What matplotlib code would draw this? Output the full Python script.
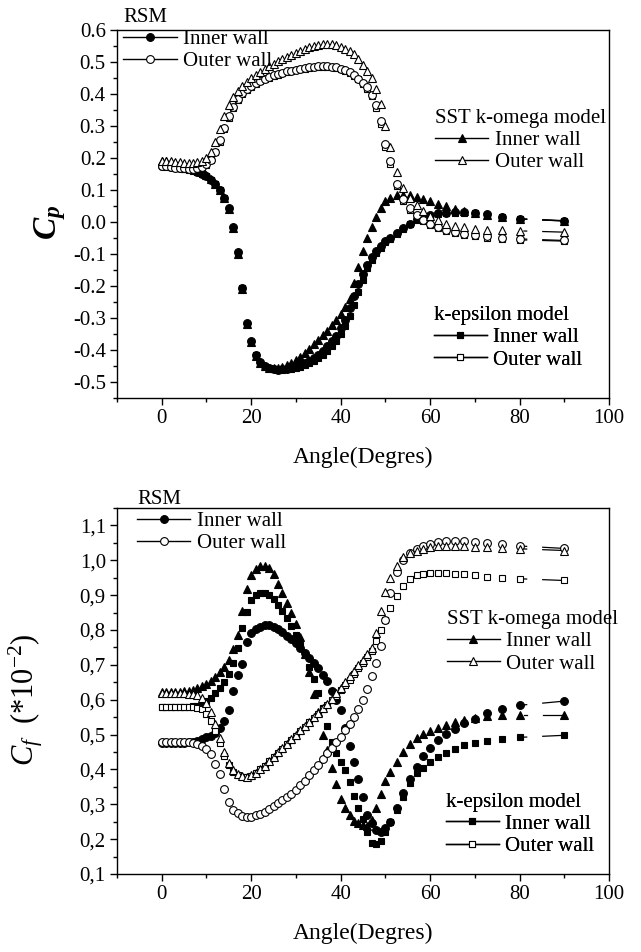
import numpy as np
import matplotlib
matplotlib.use('Agg')
import matplotlib.pyplot as plt
from matplotlib.lines import Line2D
from matplotlib.ticker import MultipleLocator, FuncFormatter

plt.rcParams['font.family'] = 'Liberation Serif'
plt.rcParams['mathtext.fontset'] = 'custom'
plt.rcParams['mathtext.rm'] = 'Liberation Serif'
plt.rcParams['mathtext.it'] = 'Liberation Serif:italic'
plt.rcParams['mathtext.bf'] = 'Liberation Serif:bold:italic'

# 角度站点（两个图共用）
ANGLE = [0, 1, 2, 3, 4, 5, 6, 7, 8, 9,
         10, 11, 12, 13, 14, 15, 16, 17, 18, 19,
         20, 21, 22, 23, 24, 25, 26, 27, 28, 29,
         30, 31, 32, 33, 34, 35, 36, 37, 38, 39,
         40, 41, 42, 43, 44, 45, 46, 47, 48, 49,
         50, 51, 52.5, 54, 55.5, 57, 58.5, 60, 61.7, 63.5,
         65.5, 67.7, 70, 72.7, 76, 80, 90]

# ---- Cp ----
cp_rsm_in = [0.175, 0.174, 0.173, 0.171, 0.169, 0.167, 0.164, 0.161, 0.157, 0.151,
             0.143, 0.132, 0.118, 0.100, 0.075, 0.042, -0.015, -0.095, -0.205, -0.315,
             -0.372, -0.415, -0.439, -0.451, -0.458, -0.461, -0.462, -0.461, -0.459, -0.456,
             -0.452, -0.447, -0.441, -0.434, -0.425, -0.415, -0.403, -0.389, -0.373, -0.355,
             -0.333, -0.305, -0.270, -0.230, -0.195, -0.163, -0.135, -0.110, -0.091, -0.075,
             -0.060, -0.050, -0.035, -0.020, -0.005, 0.008, 0.017, 0.023, 0.027, 0.029,
             0.030, 0.030, 0.029, 0.025, 0.016, 0.010, 0.004]
cp_rsm_out = [0.175, 0.174, 0.172, 0.170, 0.168, 0.167, 0.166, 0.166, 0.168, 0.172,
              0.180, 0.195, 0.220, 0.255, 0.295, 0.330, 0.360, 0.385, 0.403, 0.416,
              0.426, 0.434, 0.441, 0.447, 0.453, 0.458, 0.462, 0.466, 0.470, 0.473,
              0.476, 0.479, 0.481, 0.483, 0.485, 0.486, 0.486, 0.486, 0.485, 0.483,
              0.479, 0.474, 0.467, 0.458, 0.447, 0.435, 0.420, 0.398, 0.365, 0.315,
              0.245, 0.190, 0.120, 0.072, 0.042, 0.021, 0.006, -0.006, -0.016, -0.024,
              -0.031, -0.037, -0.041, -0.045, -0.049, -0.053, -0.058]
cp_sst_in = [0.190, 0.189, 0.187, 0.185, 0.182, 0.178, 0.174, 0.169, 0.163, 0.156,
             0.147, 0.135, 0.120, 0.100, 0.075, 0.040, -0.020, -0.100, -0.210, -0.320,
             -0.375, -0.418, -0.440, -0.450, -0.455, -0.457, -0.456, -0.452, -0.447, -0.442,
             -0.432, -0.421, -0.410, -0.397, -0.383, -0.368, -0.353, -0.340, -0.323, -0.306,
             -0.287, -0.265, -0.240, -0.190, -0.140, -0.090, -0.050, -0.015, 0.015, 0.045,
             0.065, 0.076, 0.083, 0.085, 0.083, 0.078, 0.072, 0.065, 0.057, 0.049,
             0.041, 0.033, 0.027, 0.021, 0.015, 0.009, 0.003]
cp_sst_out = [0.190, 0.190, 0.189, 0.187, 0.186, 0.185, 0.184, 0.184, 0.186, 0.190,
              0.200, 0.220, 0.250, 0.290, 0.330, 0.365, 0.390, 0.410, 0.425, 0.438,
              0.449, 0.459, 0.468, 0.477, 0.486, 0.494, 0.502, 0.509, 0.516, 0.523,
              0.529, 0.535, 0.540, 0.545, 0.549, 0.553, 0.555, 0.556, 0.555, 0.552,
              0.547, 0.541, 0.534, 0.525, 0.510, 0.490, 0.470, 0.450, 0.415, 0.370,
              0.300, 0.235, 0.155, 0.105, 0.075, 0.052, 0.033, 0.018, 0.005, -0.005,
              -0.012, -0.017, -0.021, -0.024, -0.026, -0.028, -0.032]
cp_ke_in = [0.175, 0.174, 0.172, 0.170, 0.168, 0.166, 0.163, 0.160, 0.156, 0.150,
            0.142, 0.131, 0.117, 0.099, 0.074, 0.040, -0.018, -0.098, -0.208, -0.318,
            -0.374, -0.416, -0.440, -0.452, -0.458, -0.461, -0.462, -0.462, -0.461, -0.459,
            -0.456, -0.452, -0.447, -0.441, -0.434, -0.426, -0.416, -0.404, -0.389, -0.371,
            -0.350, -0.325, -0.295, -0.260, -0.220, -0.180, -0.145, -0.118, -0.097, -0.080,
            -0.064, -0.053, -0.038, -0.023, -0.008, 0.005, 0.014, 0.020, 0.025, 0.027,
            0.028, 0.028, 0.027, 0.023, 0.015, 0.009, 0.003]
cp_ke_out = [0.174, 0.173, 0.171, 0.169, 0.167, 0.166, 0.165, 0.165, 0.167, 0.171,
             0.179, 0.193, 0.217, 0.251, 0.290, 0.325, 0.356, 0.381, 0.400, 0.413,
             0.423, 0.432, 0.439, 0.445, 0.451, 0.456, 0.460, 0.464, 0.468, 0.471,
             0.474, 0.477, 0.479, 0.481, 0.483, 0.484, 0.484, 0.484, 0.483, 0.481,
             0.477, 0.472, 0.465, 0.456, 0.445, 0.432, 0.415, 0.392, 0.357, 0.305,
             0.235, 0.180, 0.112, 0.066, 0.037, 0.017, 0.002, -0.010, -0.020, -0.028,
             -0.035, -0.041, -0.045, -0.049, -0.053, -0.056, -0.060]

# ---- Cf (*10^-2) ----
cf_rsm_in = [0.477, 0.477, 0.477, 0.477, 0.477, 0.477, 0.478, 0.479, 0.482, 0.487,
             0.492, 0.497, 0.505, 0.518, 0.538, 0.570, 0.625, 0.670, 0.702, 0.765,
             0.792, 0.803, 0.810, 0.813, 0.813, 0.808, 0.802, 0.794, 0.784, 0.774,
             0.762, 0.749, 0.735, 0.720, 0.705, 0.690, 0.672, 0.655, 0.625, 0.598,
             0.570, 0.520, 0.468, 0.420, 0.372, 0.322, 0.268, 0.245, 0.226, 0.222,
             0.232, 0.250, 0.290, 0.333, 0.372, 0.408, 0.438, 0.462, 0.484, 0.502,
             0.517, 0.532, 0.546, 0.561, 0.574, 0.584, 0.596]
cf_rsm_out = [0.478, 0.478, 0.478, 0.478, 0.478, 0.478, 0.478, 0.476, 0.472, 0.468,
              0.458, 0.445, 0.415, 0.387, 0.345, 0.307, 0.285, 0.274, 0.267, 0.264,
              0.265, 0.268, 0.273, 0.279, 0.287, 0.295, 0.303, 0.311, 0.320, 0.330,
              0.342, 0.355, 0.368, 0.383, 0.398, 0.414, 0.430, 0.446, 0.462, 0.478,
              0.494, 0.512, 0.531, 0.551, 0.573, 0.598, 0.632, 0.667, 0.705, 0.755,
              0.830, 0.905, 0.965, 1.000, 1.020, 1.032, 1.041, 1.047, 1.052, 1.055,
              1.056, 1.055, 1.053, 1.050, 1.046, 1.041, 1.034]
cf_sst_in = [0.622, 0.622, 0.622, 0.622, 0.623, 0.624, 0.626, 0.629, 0.633, 0.639,
             0.646, 0.655, 0.666, 0.680, 0.695, 0.715, 0.745, 0.785, 0.855, 0.918,
             0.958, 0.976, 0.984, 0.985, 0.978, 0.962, 0.932, 0.905, 0.877, 0.850,
             0.818, 0.780, 0.730, 0.680, 0.617, 0.565, 0.500, 0.455, 0.405, 0.357,
             0.315, 0.290, 0.268, 0.252, 0.245, 0.240, 0.238, 0.255, 0.290, 0.330,
             0.366, 0.392, 0.420, 0.450, 0.472, 0.490, 0.502, 0.511, 0.520, 0.528,
             0.535, 0.542, 0.548, 0.552, 0.555, 0.557, 0.557]
cf_sst_out = [0.620, 0.620, 0.620, 0.619, 0.619, 0.618, 0.617, 0.616, 0.614, 0.605,
              0.590, 0.565, 0.530, 0.490, 0.450, 0.418, 0.398, 0.387, 0.381, 0.379,
              0.383, 0.391, 0.400, 0.410, 0.423, 0.436, 0.449, 0.461, 0.474, 0.487,
              0.499, 0.512, 0.524, 0.537, 0.550, 0.563, 0.576, 0.589, 0.603, 0.619,
              0.635, 0.651, 0.667, 0.683, 0.699, 0.715, 0.730, 0.748, 0.790, 0.855,
              0.910, 0.950, 0.985, 1.008, 1.020, 1.028, 1.033, 1.037, 1.040, 1.041,
              1.041, 1.040, 1.039, 1.037, 1.035, 1.033, 1.028]
cf_ke_in = [0.580, 0.580, 0.580, 0.580, 0.580, 0.580, 0.580, 0.581, 0.583, 0.587,
            0.595, 0.606, 0.620, 0.635, 0.652, 0.675, 0.705, 0.748, 0.805, 0.852,
            0.885, 0.900, 0.906, 0.906, 0.900, 0.888, 0.872, 0.855, 0.835, 0.812,
            0.785, 0.757, 0.727, 0.695, 0.660, 0.620, 0.575, 0.525, 0.480, 0.448,
            0.422, 0.398, 0.365, 0.325, 0.290, 0.258, 0.222, 0.190, 0.185, 0.195,
            0.220, 0.248, 0.285, 0.320, 0.360, 0.390, 0.405, 0.420, 0.435, 0.447,
            0.458, 0.469, 0.477, 0.483, 0.487, 0.492, 0.498]
cf_ke_out = [0.580, 0.580, 0.580, 0.580, 0.579, 0.579, 0.578, 0.578, 0.577, 0.572,
             0.560, 0.540, 0.510, 0.475, 0.440, 0.412, 0.394, 0.384, 0.379, 0.378,
             0.382, 0.390, 0.400, 0.411, 0.423, 0.435, 0.447, 0.460, 0.472, 0.485,
             0.497, 0.510, 0.522, 0.535, 0.547, 0.560, 0.572, 0.585, 0.598, 0.612,
             0.627, 0.642, 0.658, 0.674, 0.690, 0.706, 0.722, 0.740, 0.768, 0.800,
             0.830, 0.862, 0.898, 0.925, 0.946, 0.957, 0.961, 0.963, 0.963, 0.963,
             0.962, 0.960, 0.957, 0.953, 0.950, 0.947, 0.942]

FS = 15
MS = {'o': 5.6, '^': 6.2, 's': 4.8}


def draw_series(ax, y, marker, filled):
    # 末端两点之间只画出一小段连线（原图风格）
    x0, x1 = ANGLE[-2], ANGLE[-1]
    seg = np.interp([85.2, 90.0], [x0, x1], [y[-2], y[-1]])
    ax.plot([85.2, 90.0], seg, color='k', lw=0.9, zorder=2)
    dot = np.interp([81.0, 81.6], [x0, x1], [y[-2], y[-1]])
    ax.plot([81.0, 81.6], dot, color='k', lw=0.9, zorder=2)
    ax.plot(ANGLE, y, linestyle='none', marker=marker, ms=MS[marker],
            mfc='k' if filled else 'w', mec='k', mew=0.8, zorder=3)


def handle(marker, filled):
    return Line2D([], [], color='k', lw=1.0, marker=marker, ms=MS[marker],
                  mfc='k' if filled else 'w', mec='k', mew=0.8)


def add_group(ax, title, marker, anchor):
    leg = ax.legend([handle(marker, True), handle(marker, False)],
                    ['Inner wall', 'Outer wall'], title=title,
                    loc='center left', bbox_to_anchor=anchor, frameon=False,
                    borderpad=0, borderaxespad=0, handlelength=2.55,
                    handletextpad=0.3, labelspacing=0.12, numpoints=1,
                    fontsize=FS, title_fontsize=FS, alignment='left')
    ax.add_artist(leg)


def style_axes(ax, ylo, yhi, fmt):
    ax.set_xlim(-10, 100)
    ax.set_ylim(ylo, yhi)
    ax.xaxis.set_major_locator(MultipleLocator(20))
    ax.xaxis.set_minor_locator(MultipleLocator(10))
    ax.yaxis.set_major_locator(MultipleLocator(0.1))
    ax.yaxis.set_minor_locator(MultipleLocator(0.05))
    ax.yaxis.set_major_formatter(FuncFormatter(fmt))
    ax.tick_params(which='both', direction='out', top=False, right=False, width=1)
    ax.tick_params(which='major', length=5, labelsize=FS, pad=3)
    ax.tick_params(which='minor', length=3)
    for s in ax.spines.values():
        s.set_linewidth(1.0)
    ax.set_xlabel('Angle(Degres)', fontsize=17)
    ax.xaxis.set_label_coords(0.5, -0.132)


fig = plt.figure(figsize=(6.41, 9.52), dpi=100)
ax1 = fig.add_axes([0.1825, 0.582, 0.7675, 0.3866])
ax2 = fig.add_axes([0.1825, 0.0819, 0.7675, 0.3845])

# 上图：Cp
for y, m, f in [(cp_ke_in, 's', True), (cp_rsm_in, 'o', True), (cp_sst_in, '^', True),
                (cp_ke_out, 's', False), (cp_rsm_out, 'o', False), (cp_sst_out, '^', False)]:
    draw_series(ax1, y, m, f)
style_axes(ax1, -0.55, 0.6, lambda v, p: f'{round(v, 1) + 0:.1f}')
ax1.set_ylabel(r'$\mathbf{C}_\mathbf{p}$', fontsize=24)
ax1.yaxis.set_label_coords(-0.10, 0.478)
add_group(ax1, 'RSM', 'o', (0.013, 0.974))
add_group(ax1, 'SST k-omega model', '^', (0.647, 0.700))
add_group(ax1, 'k-epsilon model', 's', (0.644, 0.163))

# 下图：Cf
for y, m, f in [(cf_ke_in, 's', True), (cf_rsm_in, 'o', True), (cf_sst_in, '^', True),
                (cf_ke_out, 's', False), (cf_rsm_out, 'o', False), (cf_sst_out, '^', False)]:
    draw_series(ax2, y, m, f)
style_axes(ax2, 0.1, 1.15, lambda v, p: f'{round(v, 1) + 0:.1f}'.replace('.', ','))
ax2.set_ylabel(r'$C_f$  (*10$^{-2}$)', fontsize=22)
ax2.yaxis.set_label_coords(-0.147, 0.476)
add_group(ax2, 'RSM', 'o', (0.041, 0.962))
add_group(ax2, 'SST k-omega model', '^', (0.670, 0.634))
add_group(ax2, 'k-epsilon model', 's', (0.668, 0.136))

fig.savefig('out.png', dpi=100)
